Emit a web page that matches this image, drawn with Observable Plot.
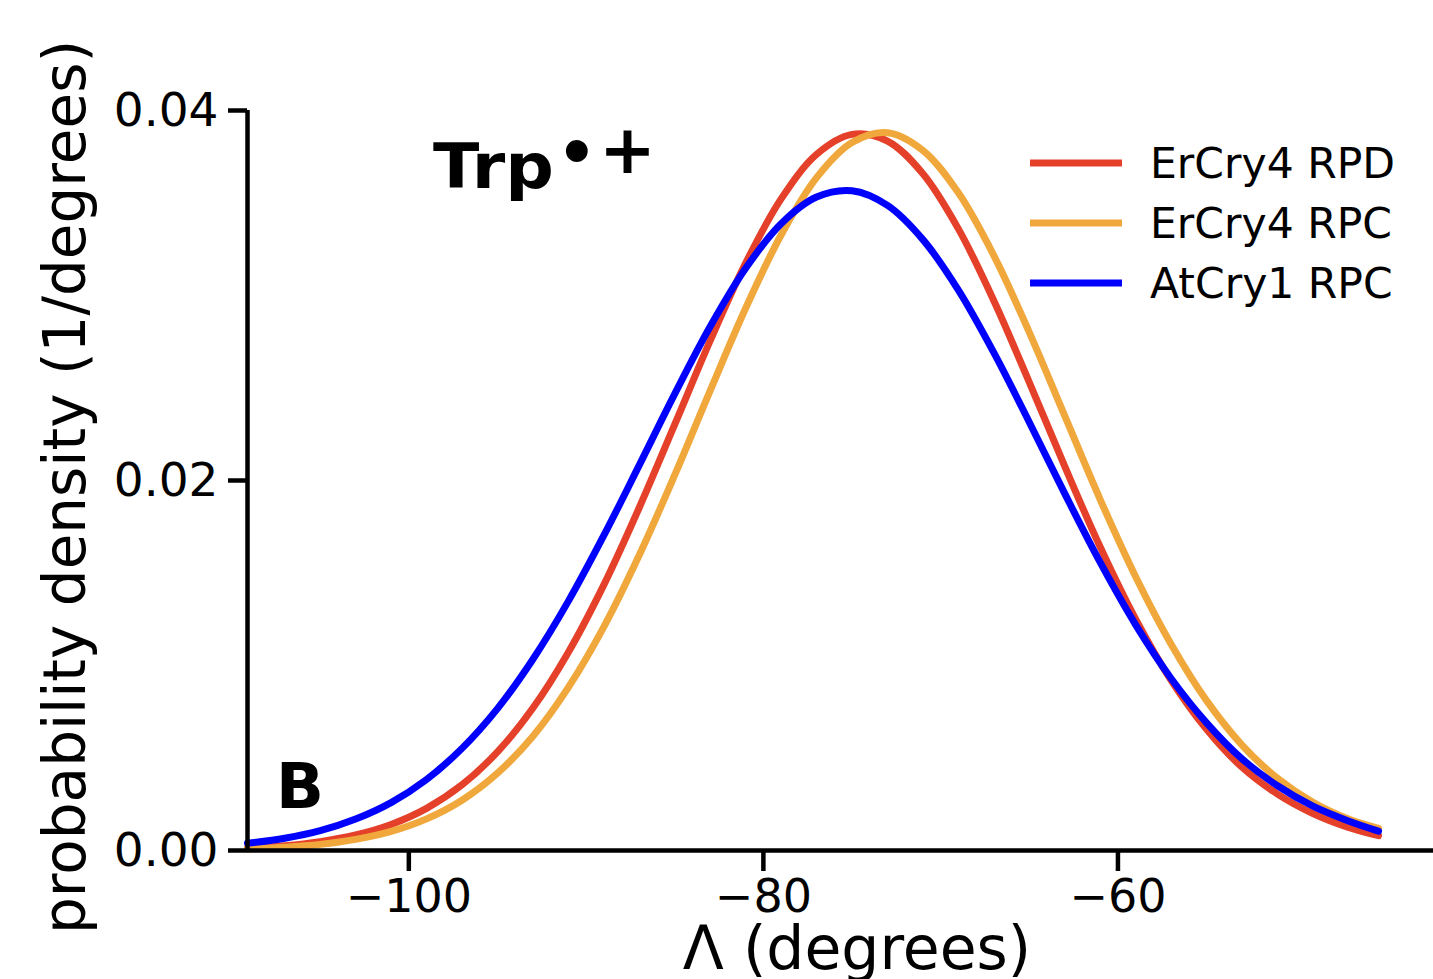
<!DOCTYPE html>
<html><head><meta charset="utf-8">
<script src="https://cdn.jsdelivr.net/npm/d3@7"></script>
<script src="https://cdn.jsdelivr.net/npm/@observablehq/plot@0.6"></script>
<style>html,body{margin:0;padding:0;background:#fff;overflow:hidden;}</style>
</head><body><div id="chart"></div>
<script>
// Λ (degrees) sample positions
const lambda = [-109.1,-107,-105,-103,-101,-99,-97,-95,-93,-91,-89,-87,-85,-83,-81,-79,-77,-75,-73,-71,-69,-67,-65,-63,-61,-59,-57,-55,-53,-51,-49,-47,-45.3];
// probability density (1/degrees)
const erCry4RPD = [0.00014,0.00026,0.00048,0.00084,0.00141,0.00228,0.00355,0.00533,0.00770,0.01072,0.01436,0.01854,0.02303,0.02756,0.03175,0.03522,0.03763,0.03871,0.03835,0.03658,0.03360,0.02972,0.02531,0.02076,0.01640,0.01250,0.00920,0.00655,0.00450,0.00305,0.00200,0.00125,0.00080];
const erCry4RPC = [0.00009,0.00018,0.00033,0.00060,0.00103,0.00171,0.00272,0.00418,0.00618,0.00882,0.01209,0.01597,0.02030,0.02486,0.02931,0.03327,0.03637,0.03827,0.03880,0.03784,0.03555,0.03216,0.02801,0.02349,0.01897,0.01480,0.01115,0.00810,0.00570,0.00390,0.00260,0.00170,0.00120];
const atCry1RPC = [0.00039,0.00066,0.00107,0.00170,0.00259,0.00384,0.00552,0.00767,0.01034,0.01348,0.01703,0.02083,0.02468,0.02832,0.03147,0.03388,0.03532,0.03566,0.03487,0.03302,0.03029,0.02691,0.02315,0.01929,0.01557,0.01220,0.00930,0.00690,0.00495,0.00350,0.00240,0.00160,0.00105];

const seriesNames = ["ErCry4 RPD", "ErCry4 RPC", "AtCry1 RPC"];
const seriesValues = [erCry4RPD, erCry4RPC, atCry1RPC];
const seriesColors = ["#e5402a", "#f0a83c", "#0000ff"];
const xTicks = [-100, -80, -60];
const yTicks = [0, 0.02, 0.04];
const xDomain = [-109.1, -42.2];
const yDomain = [0, 0.04];
const xLabel = "Λ (degrees)";
const yLabel = "probability density (1/degrees)";
const panelLetter = "B";

const rows = [];
seriesNames.forEach((name, s) => {
  lambda.forEach((x, i) => rows.push({x, y: seriesValues[s][i], series: name}));
});

const plot = Plot.plot({
  width: 1433,
  height: 979,
  marginLeft: 247,
  marginRight: 0,
  marginTop: 110,
  marginBottom: 129,
  style: {fontFamily: "DejaVu Sans", color: "#000", background: "#fff", overflow: "visible"},
  x: {domain: xDomain},
  y: {domain: yDomain},
  color: {domain: seriesNames, range: seriesColors},
  marks: [
    Plot.line(rows, {x: "x", y: "y", z: "series", stroke: "series", strokeWidth: 7, curve: "catmull-rom"}),
    Plot.ruleY([0], {strokeWidth: 4.5, stroke: "#000"}),
    Plot.ruleX([xDomain[0]], {strokeWidth: 4.5, stroke: "#000"}),
    Plot.axisX({ticks: xTicks, tickSize: 21, tickPadding: 8, fontSize: 46, strokeWidth: 4.5, label: null}),
    Plot.axisY({ticks: yTicks, tickSize: 19, tickPadding: 10, fontSize: 47, strokeWidth: 4.5, label: null, tickFormat: d3.format(".2f")})
  ]
});
document.getElementById("chart").appendChild(plot);

const svg = d3.select(plot);
// axis labels
svg.append("text").attr("x", 857).attr("y", 969).attr("text-anchor", "middle")
  .attr("font-size", 60).attr("fill", "#000").text(xLabel);
svg.append("text").attr("transform", "translate(85,487) rotate(-90)").attr("text-anchor", "middle")
  .attr("font-size", 58).attr("fill", "#000").text(yLabel);
// panel letter
svg.append("text").attr("x", 276).attr("y", 808).attr("text-anchor", "start").attr("font-size", 63).attr("font-weight", "bold")
  .attr("textLength", 48).attr("lengthAdjust", "spacingAndGlyphs")
  .attr("fill", "#000").text(panelLetter);
// Trp radical cation label
const t = svg.append("text").attr("x", 433).attr("y", 188).attr("text-anchor", "start")
  .attr("font-size", 63).attr("font-weight", "bold").attr("fill", "#000");
t.append("tspan").attr("textLength", 121).attr("lengthAdjust", "spacingAndGlyphs").text("Trp");
t.append("tspan").attr("x", 557).attr("y", 174).attr("font-size", 62).text("•");
t.append("tspan").attr("x", 599).attr("y", 173).attr("font-size", 68).text("+");
// legend
const lg = svg.append("g").attr("text-anchor", "start");
seriesNames.forEach((name, i) => {
  lg.append("line").attr("x1", 1030).attr("x2", 1122).attr("y1", 163 + 60 * i).attr("y2", 163 + 60 * i)
    .attr("stroke", seriesColors[i]).attr("stroke-width", 7);
  lg.append("text").attr("x", 1150).attr("y", 178 + 60 * i).attr("font-size", 42.5).attr("fill", "#000").text(name);
});
</script>
</body></html>
